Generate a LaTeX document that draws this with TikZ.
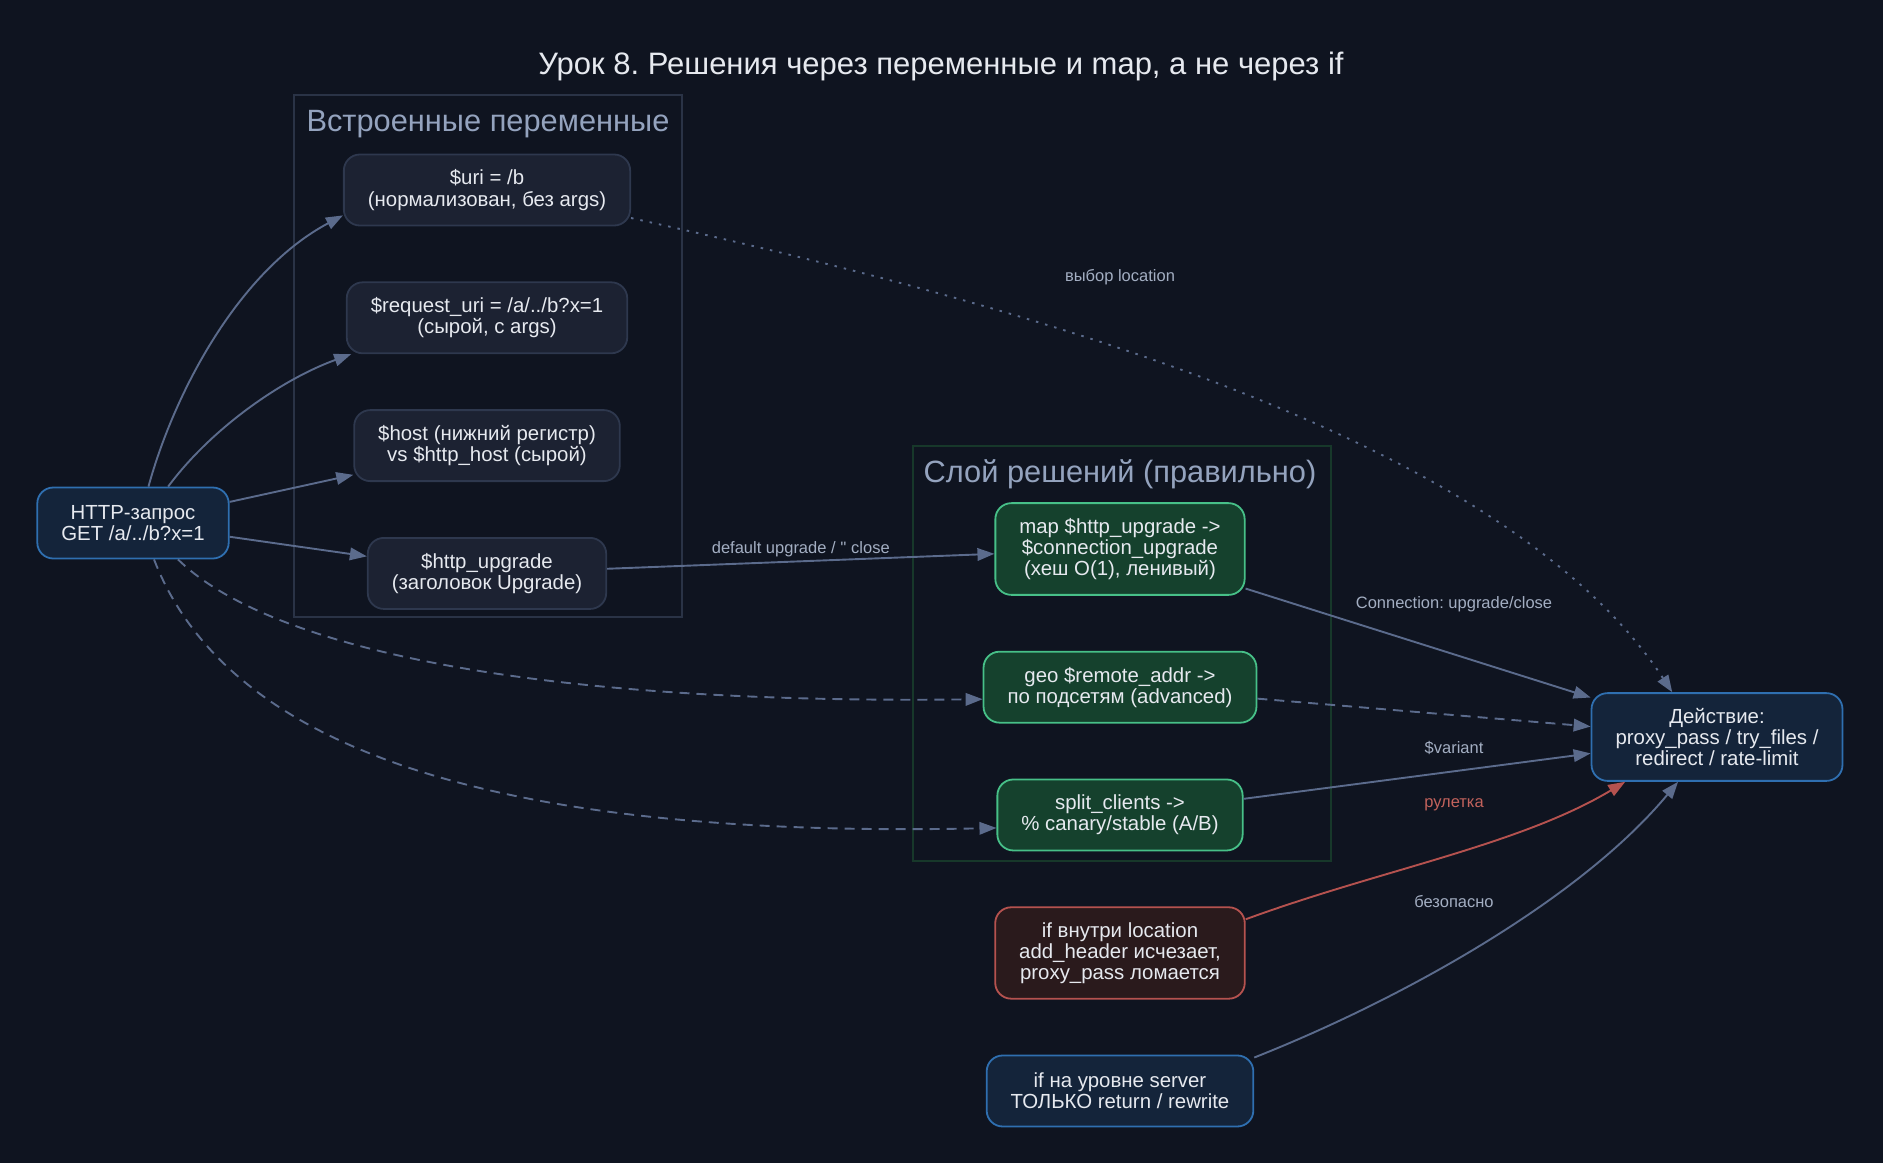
\documentclass[tikz,border=0pt]{standalone}
\usepackage{fontspec}
\setmainfont{Liberation Sans}
\usetikzlibrary{positioning,arrows.meta}
\definecolor{bgcol}{HTML}{0F1420}
\definecolor{txtcol}{HTML}{E6E9EF}
\definecolor{varfill}{HTML}{1C2232}
\definecolor{varline}{HTML}{2E384E}
\definecolor{bluefill}{HTML}{14243A}
\definecolor{blueline}{HTML}{2F6FB0}
\definecolor{greenfill}{HTML}{15412D}
\definecolor{greenline}{HTML}{47C088}
\definecolor{redfill}{HTML}{2A1A1C}
\definecolor{redline}{HTML}{B5524F}
\definecolor{edgecol}{HTML}{5B6B8C}
\definecolor{lblcol}{HTML}{A3AEC2}
\definecolor{redlbl}{HTML}{C2625C}
\definecolor{clabcol}{HTML}{94A3BE}
\definecolor{c1line}{HTML}{2A3346}
\definecolor{c2line}{HTML}{17382A}
\frenchspacing

\begin{document}
\begin{tikzpicture}[x=1pt, y=1pt, node distance=55pt,
  box/.style={rounded corners=16pt, line width=1.8pt, align=center, inner xsep=24pt, inner ysep=15pt, minimum height=71pt, text=txtcol, font=\fontsize{20.4}{21.2}\selectfont},
  varbox/.style={box, fill=varfill, draw=varline},
  bluebox/.style={box, fill=bluefill, draw=blueline},
  greenbox/.style={box, fill=greenfill, draw=greenline},
  redbox/.style={box, fill=redfill, draw=redline},
  link/.style={draw=edgecol, line width=1.9pt, -{Triangle[length=17pt,width=12.5pt]}},
  lbl/.style={text=lblcol, inner sep=1pt, font=\fontsize{16.5}{18}\selectfont},
  cluster/.style={line width=1.5pt},
  clab/.style={text=clabcol, font=\fontsize{30.8}{34}\selectfont}]
\fill[bgcol] (0,0) rectangle (1883,-1163);
\useasboundingbox (0,0) rectangle (1883,-1163);

\node[text=txtcol, font=\fontsize{31}{34}\selectfont] (title) at (941,-66) {Урок 8. Решения через переменные и map, а не через if};

% clusters
\draw[cluster, draw=c1line] (294,-95) rectangle (682,-617);
\node[clab] (c1lab) at (488,-124) {Встроенные переменные};
\draw[cluster, draw=c2line] (913,-446) rectangle (1331,-861);
\node[clab] (c2lab) at (1120,-474) {Слой решений (правильно)};

% nodes
\node[bluebox] (req) at (133,-523) {HTTP-запрос\\GET /a/../b?x=1};
\node[varbox] (uri) at (487,-190) {\$uri = /b\\(нормализован, без args)};
\node[varbox, below=of uri] (requri) {\$request\_uri = /a/../b?x=1\\(сырой, с args)};
\node[varbox, below=of requri] (host) {\$host (нижний регистр)\\vs \$http\_host (сырой)};
\node[varbox, below=of host] (upg) {\$http\_upgrade\\(заголовок Upgrade)};
\node[greenbox] (map) at (1120,-549) {map \$http\_upgrade ->\\\$connection\_upgrade\\(хеш O(1), ленивый)};
\node[greenbox, below=of map] (geo) {geo \$remote\_addr ->\\по подсетям (advanced)};
\node[greenbox, below=of geo] (split) {split\_clients ->\\\% canary/stable (A/B)};
\node[redbox, below=of split] (ifloc) {if внутри location\\add\_header исчезает,\\proxy\_pass ломается};
\node[bluebox, below=of ifloc] (ifsrv) {if на уровне server\\ТОЛЬКО return / rewrite};
\node[bluebox] (act) at (1717,-737) {Действие:\\proxy\_pass / try\_files /\\redirect / rate-limit};

% edges
\draw[link] (req.67) .. controls (175,-390) and (240,-270) .. (uri.190);
\draw[link] (req.46) .. controls (210,-430) and (280,-380) .. (requri.195);
\draw[link] (req) -- (host);
\draw[link] (req) -- (upg);
\draw[link, dash pattern=on 10pt off 7pt] (req.-39) .. controls (260,-640) and (500,-705) .. (geo.185);
\draw[link, dash pattern=on 10pt off 7pt] (req.-60) .. controls (220,-730) and (450,-840) .. (split.186);
\draw[link, dash pattern=on 2.5pt off 7pt] (uri.-11) .. controls (1000,-300) and (1500,-430) .. (act.135);
\draw[link] (upg) -- node[lbl, above=2pt] {default upgrade / \textquotesingle\textquotesingle\ close} (map);
\draw[link] (map) -- (act);
\draw[link, dash pattern=on 10pt off 7pt] (geo) -- (act);
\draw[link] (split) -- (act);
\draw[link, draw=redline] (ifloc.15) .. controls (1380,-870) and (1520,-845) .. (act.206);
\draw[link] (ifsrv.14) .. controls (1400,-1000) and (1580,-900) .. (act.229);

% edge labels
\node[lbl] (lsel) at (1120,-277) {выбор location};
\node[lbl] (lconn) at (1454,-604) {Connection: upgrade/close};
\node[lbl] (lvar) at (1454,-748) {\$variant};
\node[lbl, text=redlbl] (lrul) at (1454,-805) {рулетка};
\node[lbl] (lsafe) at (1454,-902) {безопасно};
\end{tikzpicture}
\end{document}
